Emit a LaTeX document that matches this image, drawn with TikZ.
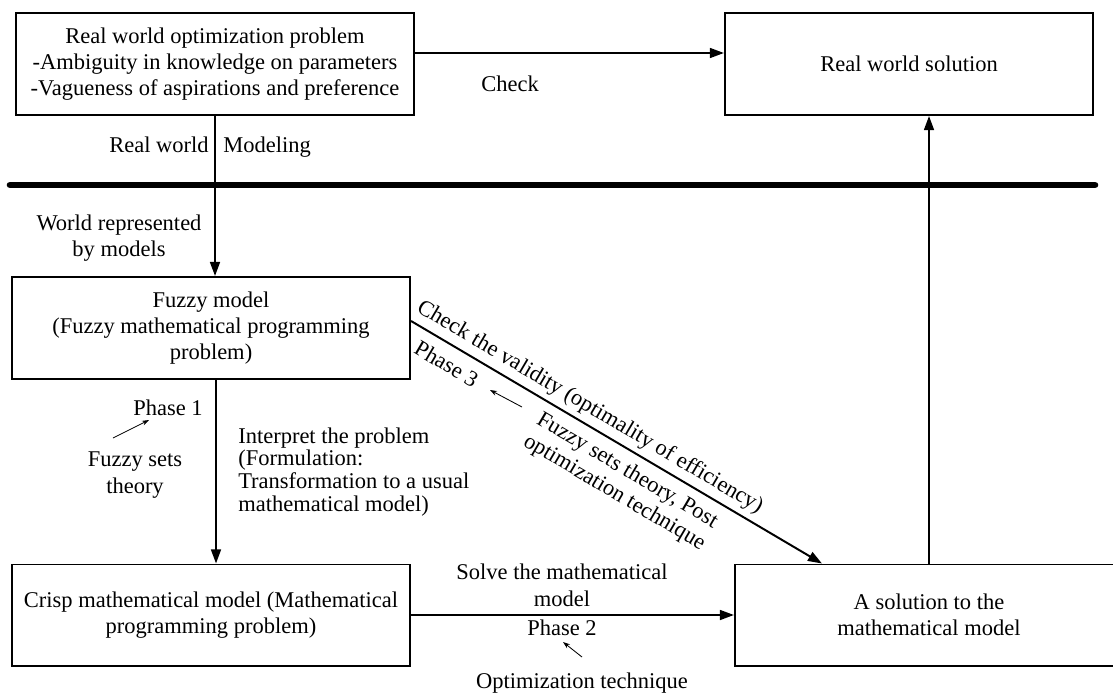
\documentclass[tikz,border=0pt]{standalone}
\usepackage{fontspec}
\setmainfont{Liberation Serif}
\usetikzlibrary{arrows.meta}
\tikzset{>={Triangle[length=10pt,width=7pt]}}
\tikzset{
  box/.style={draw, line width=1.4pt, minimum height=2.525cm, align=center,
    font=\fontsize{16}{18.5}\selectfont},
  lbl/.style={align=center, inner sep=0pt, font=\fontsize{16}{19}\selectfont},
  link/.style={->, line width=1.4pt},
  hint/.style={-{Stealth[length=5pt,width=3.5pt]}, line width=0.6pt}
}

\begin{document}
\begin{tikzpicture}[x=0.025cm, y=-0.025cm]
    \useasboundingbox (0,0) rectangle (1113,693);
    \clip (0,0) rectangle (1113,693);
    \node[box, minimum width=9.95cm, minimum height=2.55cm] (prob) at (215,64)
      {Real world optimization problem\\-Ambiguity in knowledge on parameters\\-Vagueness of aspirations and preference};
    \node[box, minimum width=9.2cm, minimum height=2.55cm] (sol) at (909,64) {Real world solution};
    \node[box, minimum width=9.95cm, minimum height=2.55cm] (fuzzy) at (211,328)
      {Fuzzy model\\(Fuzzy mathematical programming\\problem)};
    \node[box, minimum width=9.95cm] (crisp) at (211,615)
      {Crisp mathematical model (Mathematical\\programming problem)};
    \node[box, minimum width=9.7cm] (ans) at (929,615) {A solution to the\\mathematical model};

    \coordinate (sepL) at (10,185);
    \coordinate (sepR) at (1095,185);
    \draw[line width=4.7pt, line cap=round] (sepL) -- (sepR);

    \node[lbl, anchor=base east] (rw) at (209,152) {Real world};
    \node[lbl, anchor=base west] (mdl) at (223,152) {Modeling};
    \node[lbl, anchor=base] (chk) at (510,91) {Check};
    \node[lbl] (wrep) at (119,238) {World represented\\by models};
    \node[lbl, anchor=base] (ph1) at (168,415) {Phase 1};
    \node[lbl] (fst) at (135,475) {Fuzzy sets\\theory};
    \node[lbl, align=left, anchor=west, font=\fontsize{16}{16.3}\selectfont] (intp) at (238,472)
      {Interpret the problem\\(Formulation:\\Transformation to a usual\\mathematical model)};
    \node[lbl] (slv) at (562,585) {Solve the mathematical\\model};
    \node[lbl, anchor=base] (ph2) at (562,635) {Phase 2};
    \node[lbl, anchor=base] (opt) at (582,688) {Optimization technique};

    \draw[link] ([yshift=0.275cm]prob.east) -- ([yshift=0.275cm]sol.west);
    \draw[link] (prob.south) -- (prob.south |- fuzzy.north);
    \draw[link] ([xshift=0.125cm]fuzzy.south) -- ([xshift=0.125cm]fuzzy.south |- crisp.north);
    \draw[link] (crisp.east) -- (ans.west);
    \draw[link] (ans.north) -- (ans.north |- sol.south);
    \draw[link] ([yshift=0.175cm]fuzzy.east) -- ([xshift=-2.675cm]ans.north)
      node[lbl, sloped, above, inner sep=3.5pt, pos=0.415] (chv) {Check the validity (optimality of efficiency)}
      node[lbl, sloped, below, inner sep=7pt, pos=0.11] (ph3) {Phase 3}
      node[lbl, sloped, below, inner sep=6pt, pos=0.55, font=\fontsize{16}{18}\selectfont] (fpo)
        {Fuzzy sets theory, Post\\optimization technique};

    \coordinate (a1) at (113,438);
    \coordinate (b1) at (149,420);
    \coordinate (a2) at (582,657);
    \coordinate (b2) at (563,642);
    \coordinate (a3) at (522,407);
    \coordinate (b3) at (490,390);
    \draw[hint] (a1) -- (b1);
    \draw[hint] (a2) -- (b2);
    \draw[hint] (a3) -- (b3);
\end{tikzpicture}
\end{document}
